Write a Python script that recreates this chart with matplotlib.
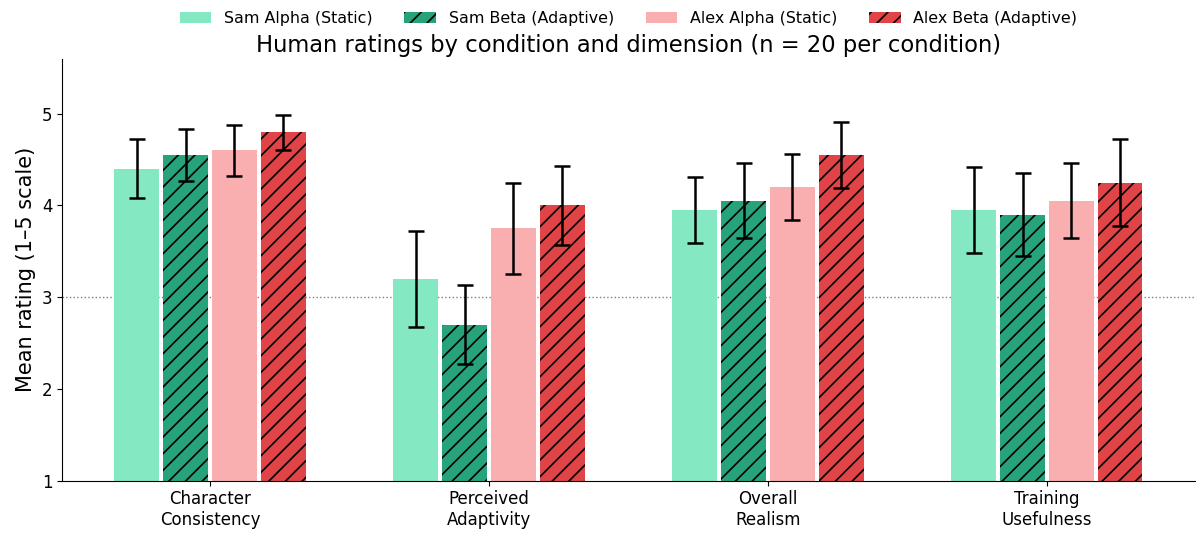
import matplotlib.pyplot as plt
import numpy as np

dimensions = ["Character\nConsistency", "Perceived\nAdaptivity", "Overall\nRealism", "Training\nUsefulness"]
conditions = ["Sam Alpha (Static)", "Sam Beta (Adaptive)", "Alex Alpha (Static)", "Alex Beta (Adaptive)"]

sam_alpha = [4.40, 3.20, 3.95, 3.95]
sam_beta = [4.55, 2.70, 4.05, 3.90]
alex_alpha = [4.60, 3.75, 4.20, 4.05]
alex_beta = [4.80, 4.00, 4.55, 4.25]

sam_alpha_err = [0.32, 0.52, 0.36, 0.47]
sam_beta_err = [0.28, 0.43, 0.41, 0.45]
alex_alpha_err = [0.28, 0.50, 0.36, 0.41]
alex_beta_err = [0.19, 0.43, 0.36, 0.47]

means = [sam_alpha, sam_beta, alex_alpha, alex_beta]
errs = [sam_alpha_err, sam_beta_err, alex_alpha_err, alex_beta_err]
colors = ["#84e9c3", "#27a37c", "#f9afaf", "#e04446"]
hatches = [None, "//", None, "//"]

plt.rcParams["hatch.linewidth"] = 1.2

fig, ax = plt.subplots(figsize=(11.96, 5.34), dpi=100)
fig.subplots_adjust(left=0.052, right=0.999, top=0.89, bottom=0.10)

x = np.arange(len(dimensions))
step = 0.175
width = 0.16

# neutral midpoint reference
ax.axhline(3, color="gray", linestyle=":", linewidth=1, zorder=0)

for i, (m, e, c, h, lab) in enumerate(zip(means, errs, colors, hatches, conditions)):
    pos = x + (i - 1.5) * step
    ax.bar(pos, m, width, bottom=0, color=c, hatch=h, edgecolor="black" if h else c,
           linewidth=0, label=lab, zorder=2)
    ax.errorbar(pos, m, yerr=e, fmt="none", ecolor="black", elinewidth=1.8,
                capsize=5.5, capthick=1.8, zorder=3)

ax.set_ylim(1, 5.6)
ax.set_xlim(-0.53, 3.53)
ax.set_yticks([1, 2, 3, 4, 5])
ax.set_xticks(x)
ax.set_xticklabels(dimensions, fontsize=12)
ax.tick_params(axis="y", labelsize=12)
ax.set_ylabel("Mean rating (1–5 scale)", fontsize=15)
ax.set_title("Human ratings by condition and dimension (n = 20 per condition)", fontsize=16.3, pad=5)
ax.spines["top"].set_visible(False)
ax.spines["right"].set_visible(False)

ax.legend(loc="lower center", bbox_to_anchor=(0.5, 1.063), ncol=4, frameon=False,
          fontsize=11.4, borderaxespad=0)

fig.savefig("out.png")
